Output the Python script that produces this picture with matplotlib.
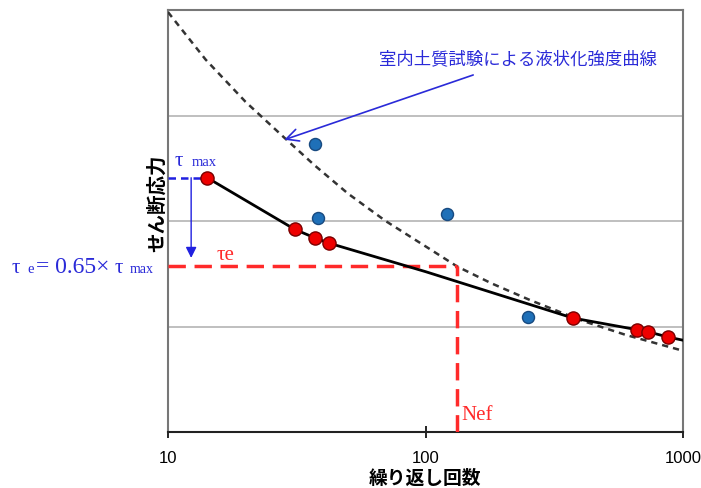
import numpy as np
import matplotlib
matplotlib.use("Agg")
import matplotlib.pyplot as plt

plt.rcParams['font.family'] = ['Noto Sans CJK JP', 'DejaVu Sans']

# test results (liquefaction test, red) and other samples (blue)
red_n = [14.2, 31.1, 37.2, 42.2, 374, 662, 731, 875]
red_tau = [2.41, 1.92, 1.84, 1.79, 1.08, 0.97, 0.95, 0.90]
blue_n = [37.2, 38.2, 121, 250]
blue_tau = [2.73, 2.03, 2.07, 1.09]

# fitted line through red points
fit_n = [14.2, 31.1, 37.2, 42.2, 100, 374, 662, 731, 875, 1000]
fit_tau = [2.41, 1.92, 1.84, 1.79, 1.52, 1.08, 0.97, 0.95, 0.90, 0.87]

# laboratory strength curve (dashed)
lab_n = [10, 14, 20, 28, 37, 50, 70, 100, 132.5, 180, 255, 400, 600, 1000]
lab_tau = [3.98, 3.53, 3.13, 2.80, 2.53, 2.26, 2.00, 1.76, 1.57, 1.41, 1.25, 1.06, 0.92, 0.77]

tau_max = 2.41
tau_e = 1.57
n_ef = 132.5
arrow_n = 12.3
arrow_end = 1.65

fig = plt.figure(figsize=(7.01, 4.88), dpi=100)
ax = fig.add_axes([168/701, 1 - 432/488, 515/701, 422/488])

ax.set_xscale('log')
ax.set_xlim(10, 1000)
ax.set_ylim(0, 4)

ax.set_yticks([1, 2, 3])
ax.yaxis.grid(True, color='#b4b4b4', lw=1.2)
ax.tick_params(axis='y', length=0, labelleft=False)
ax.set_xticks([10, 100, 1000])
ax.set_xticklabels(['10', '100', '1000'], family=['Liberation Sans'], fontsize=12)
ax.xaxis.set_minor_locator(matplotlib.ticker.NullLocator())
ax.tick_params(axis='x', direction='inout', length=8, width=1.2, pad=10)
for s in ['left', 'top', 'right']:
    ax.spines[s].set_color('#777777')
    ax.spines[s].set_linewidth(1.5)
ax.spines['bottom'].set_color('#222222')
ax.spines['bottom'].set_linewidth(1.5)
ax.set_axisbelow(True)

ax.plot(lab_n, lab_tau, color='#333333', lw=1.8, ls=(0, (2.5, 2.0)), zorder=3)
ax.plot(fit_n, fit_tau, color='black', lw=2, zorder=4)

ax.plot([10, n_ef], [tau_e, tau_e], color='#ff2a2a', lw=2.5, ls=(0, (5, 2.5)), zorder=3)
ax.plot([n_ef, n_ef], [0, tau_e], color='#ff2a2a', lw=2.5, ls=(0, (5, 2.5)), zorder=3)
ax.plot([10, red_n[0]], [tau_max, tau_max], color='#2020e0', lw=1.8, ls=(0, (3, 2)), zorder=3)
ax.annotate('', xy=(arrow_n, arrow_end), xytext=(arrow_n, tau_max),
            arrowprops=dict(arrowstyle='-|>', color='#2020e0', lw=1.0,
                            mutation_scale=16, shrinkA=0, shrinkB=0))

ax.scatter(blue_n, blue_tau, s=75, color='#1f70b8', edgecolor='#184a80', lw=1, zorder=5)
ax.scatter(red_n, red_tau, s=90, color='#ee0000', edgecolor='#7a0000', lw=1, zorder=6)

ax.annotate('室内土質試験による液状化強度曲線', xy=(28.3, 2.77), xytext=(66, 3.53),
            color='#2a2ad8', fontsize=12.5, va='center', ha='left',
            arrowprops=dict(arrowstyle='->', color='#2a2ad8', lw=1.2,
                            mutation_scale=22, shrinkA=8, shrinkB=0))

serif = ['Liberation Serif', 'DejaVu Serif']
blue = '#2a2ad8'
red = '#ff2a2a'


def px_text(x, y, s, size, color, **kw):
    fig.text(x / 701, 1 - y / 488, s, fontsize=size, color=color,
             family=serif, va='baseline', ha='left', **kw)


px_text(175, 166, 'τ', 15, blue)
px_text(192, 166, 'max', 10.5, blue)
px_text(217, 260, 'τe', 15, red)
px_text(461, 420, 'Nef', 15, red)
px_text(12, 273, 'τ', 15, blue)
px_text(27, 273, 'e', 10.5, blue)
px_text(36, 273, '= 0.65×', 17, blue)
px_text(115, 273, 'τ', 15, blue)
px_text(130, 273, 'max', 10, blue)

fig.text(157 / 701, 1 - 203 / 488, 'せん断応力', rotation=90, fontsize=14,
         fontweight='bold', ha='center', va='center')
fig.text(425 / 701, 1 - 478 / 488, '繰り返し回数', fontsize=13.5,
         fontweight='bold', ha='center', va='center')

fig.savefig('out.png', dpi=100)
